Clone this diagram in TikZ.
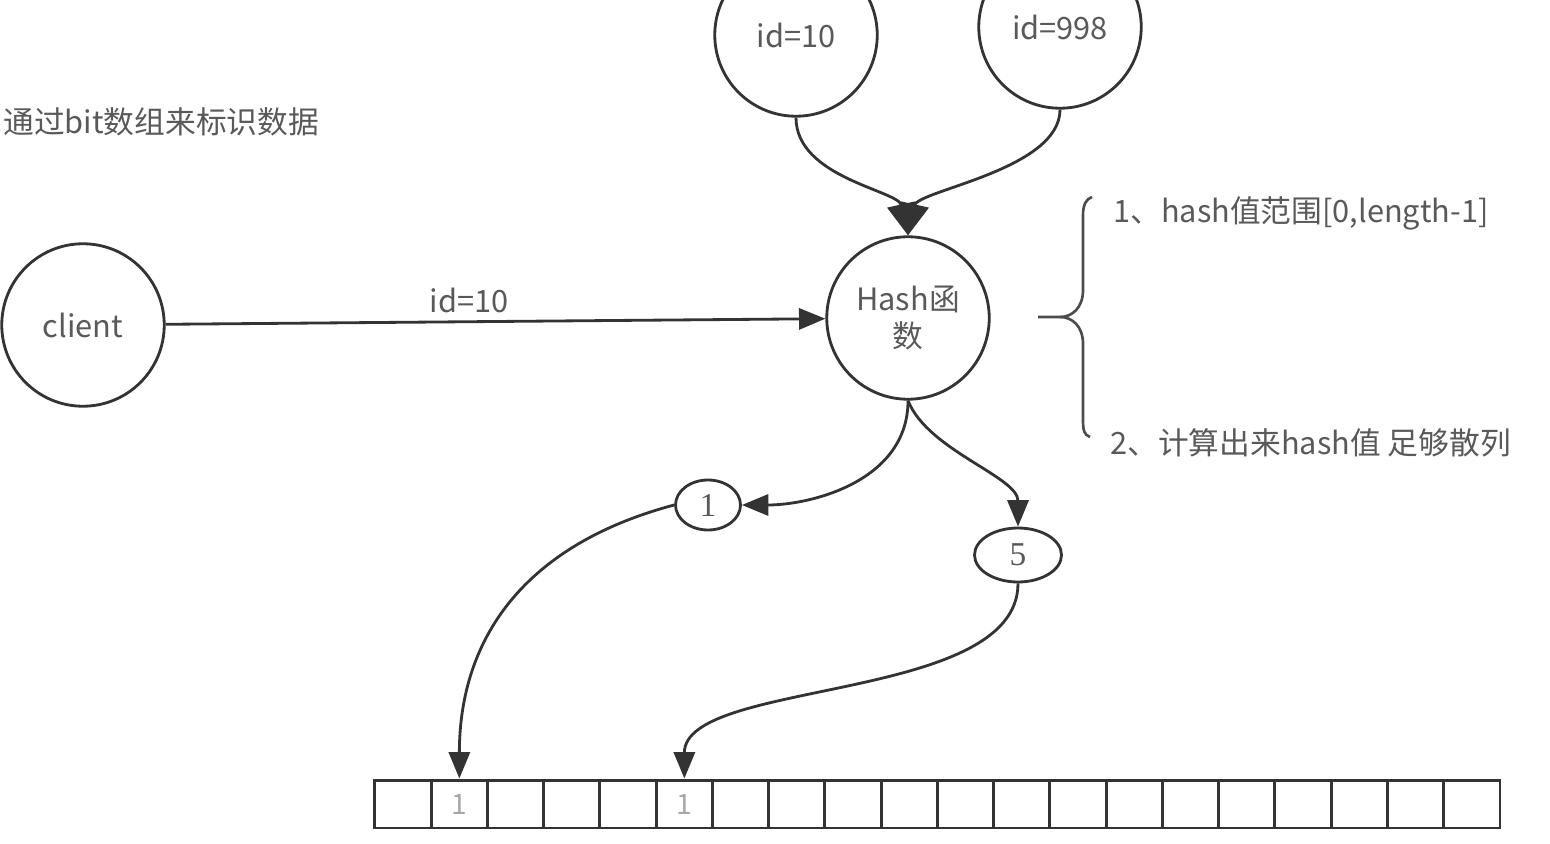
\documentclass[tikz,border=0pt]{standalone}
\usepackage{fontspec}
\setmainfont{Noto Sans CJK SC}
\newfontfamily\serifnum{Liberation Serif}
\usetikzlibrary{arrows.meta,shapes.geometric}

\tikzset{
  ball/.style={draw=black!80, line width=1.6pt, circle, minimum size=3.25cm,
    inner sep=0pt, text=black!65},
  oval/.style={draw=black!80, line width=1.6pt, ellipse, inner sep=0pt,
    text=black!65, font=\fontsize{19}{19}\serifnum},
  cell/.style={draw=black!80, line width=1.7pt, minimum width=1.125cm,
    minimum height=0.96cm, inner sep=0pt, text=black!35,
    font=\fontsize{16}{16}\selectfont},
  link/.style={draw=black!80, line width=1.6pt,
    -{Triangle[length=15pt,width=12pt]}},
  brace/.style={draw=black!70, line width=1.5pt},
  note/.style={text=black!65, anchor=west, inner sep=0pt},
}

\begin{document}
\begin{tikzpicture}[x=0.02cm, y=-0.02cm,
    every node/.style={font=\fontsize{17.5}{21}\selectfont}]
\useasboundingbox (0,0) rectangle (1550,844);

\node[note] (title) at (3,122) {通过bit数组来标识数据};

\node[ball] (client) at (83,325) {client};
\node[ball] (idten) at (796,35) {id=10};
\node[ball] (idnine) at (1060,27) {id=998};
\node[ball, align=center] (hash) at (908,318) {Hash函\\数};

\node[oval, minimum width=1.3cm, minimum height=1cm] (one) at (708,505) {1};
\node[oval, minimum width=1.74cm, minimum height=1.08cm] (five) at (1018,555) {5};

% bit array
\foreach \i in {0,...,19}
  \node[cell] (c\i) at (403.1+56.25*\i, 804) {\ifnum\i=1 1\fi\ifnum\i=5 1\fi};

\draw[link] (client) -- node[pos=0.46, above=1pt, text=black!65] (arg) {id=10} (hash);

\draw[link, -{Triangle[length=18pt,width=16pt]}] (idten.south) .. controls +(0,60) and +(-10,-45) .. (hash.north);
\draw[link, -{Triangle[length=18pt,width=16pt]}] (idnine.south) .. controls +(0,60) and +(10,-45) .. (hash.north);

\draw[link] (hash.south) .. controls +(0,80) and +(70,0) .. (one.east);
\draw[link] (hash.south) .. controls +(20,50) and +(0,-50) .. (five.north);

\draw[link] (one.west) .. controls +(-150,40) and +(0,-140) .. (c1.north);
\draw[link] (five.south) .. controls +(0,120) and +(0,-100) .. (c5.north);

% brace
\draw[brace] (1092,197) .. controls +(-6,2) and +(0,-10) ..
	(1083,215) --
	(1083,290) .. controls +(0,18) and +(12,0) ..
	(1060,317) --
	(1038,317);
\draw[brace] (1060,317) .. controls +(12,0) and +(0,-18) ..
	(1083,344) --
	(1083,420) .. controls +(0,10) and +(-6,-2) ..
	(1090,437);

\node[note] (range) at (1113,213) {1、hash值范围[0,length-1]};
\node[note] (spread) at (1110,443) {2、计算出来hash值 足够散列};
\end{tikzpicture}
\end{document}
